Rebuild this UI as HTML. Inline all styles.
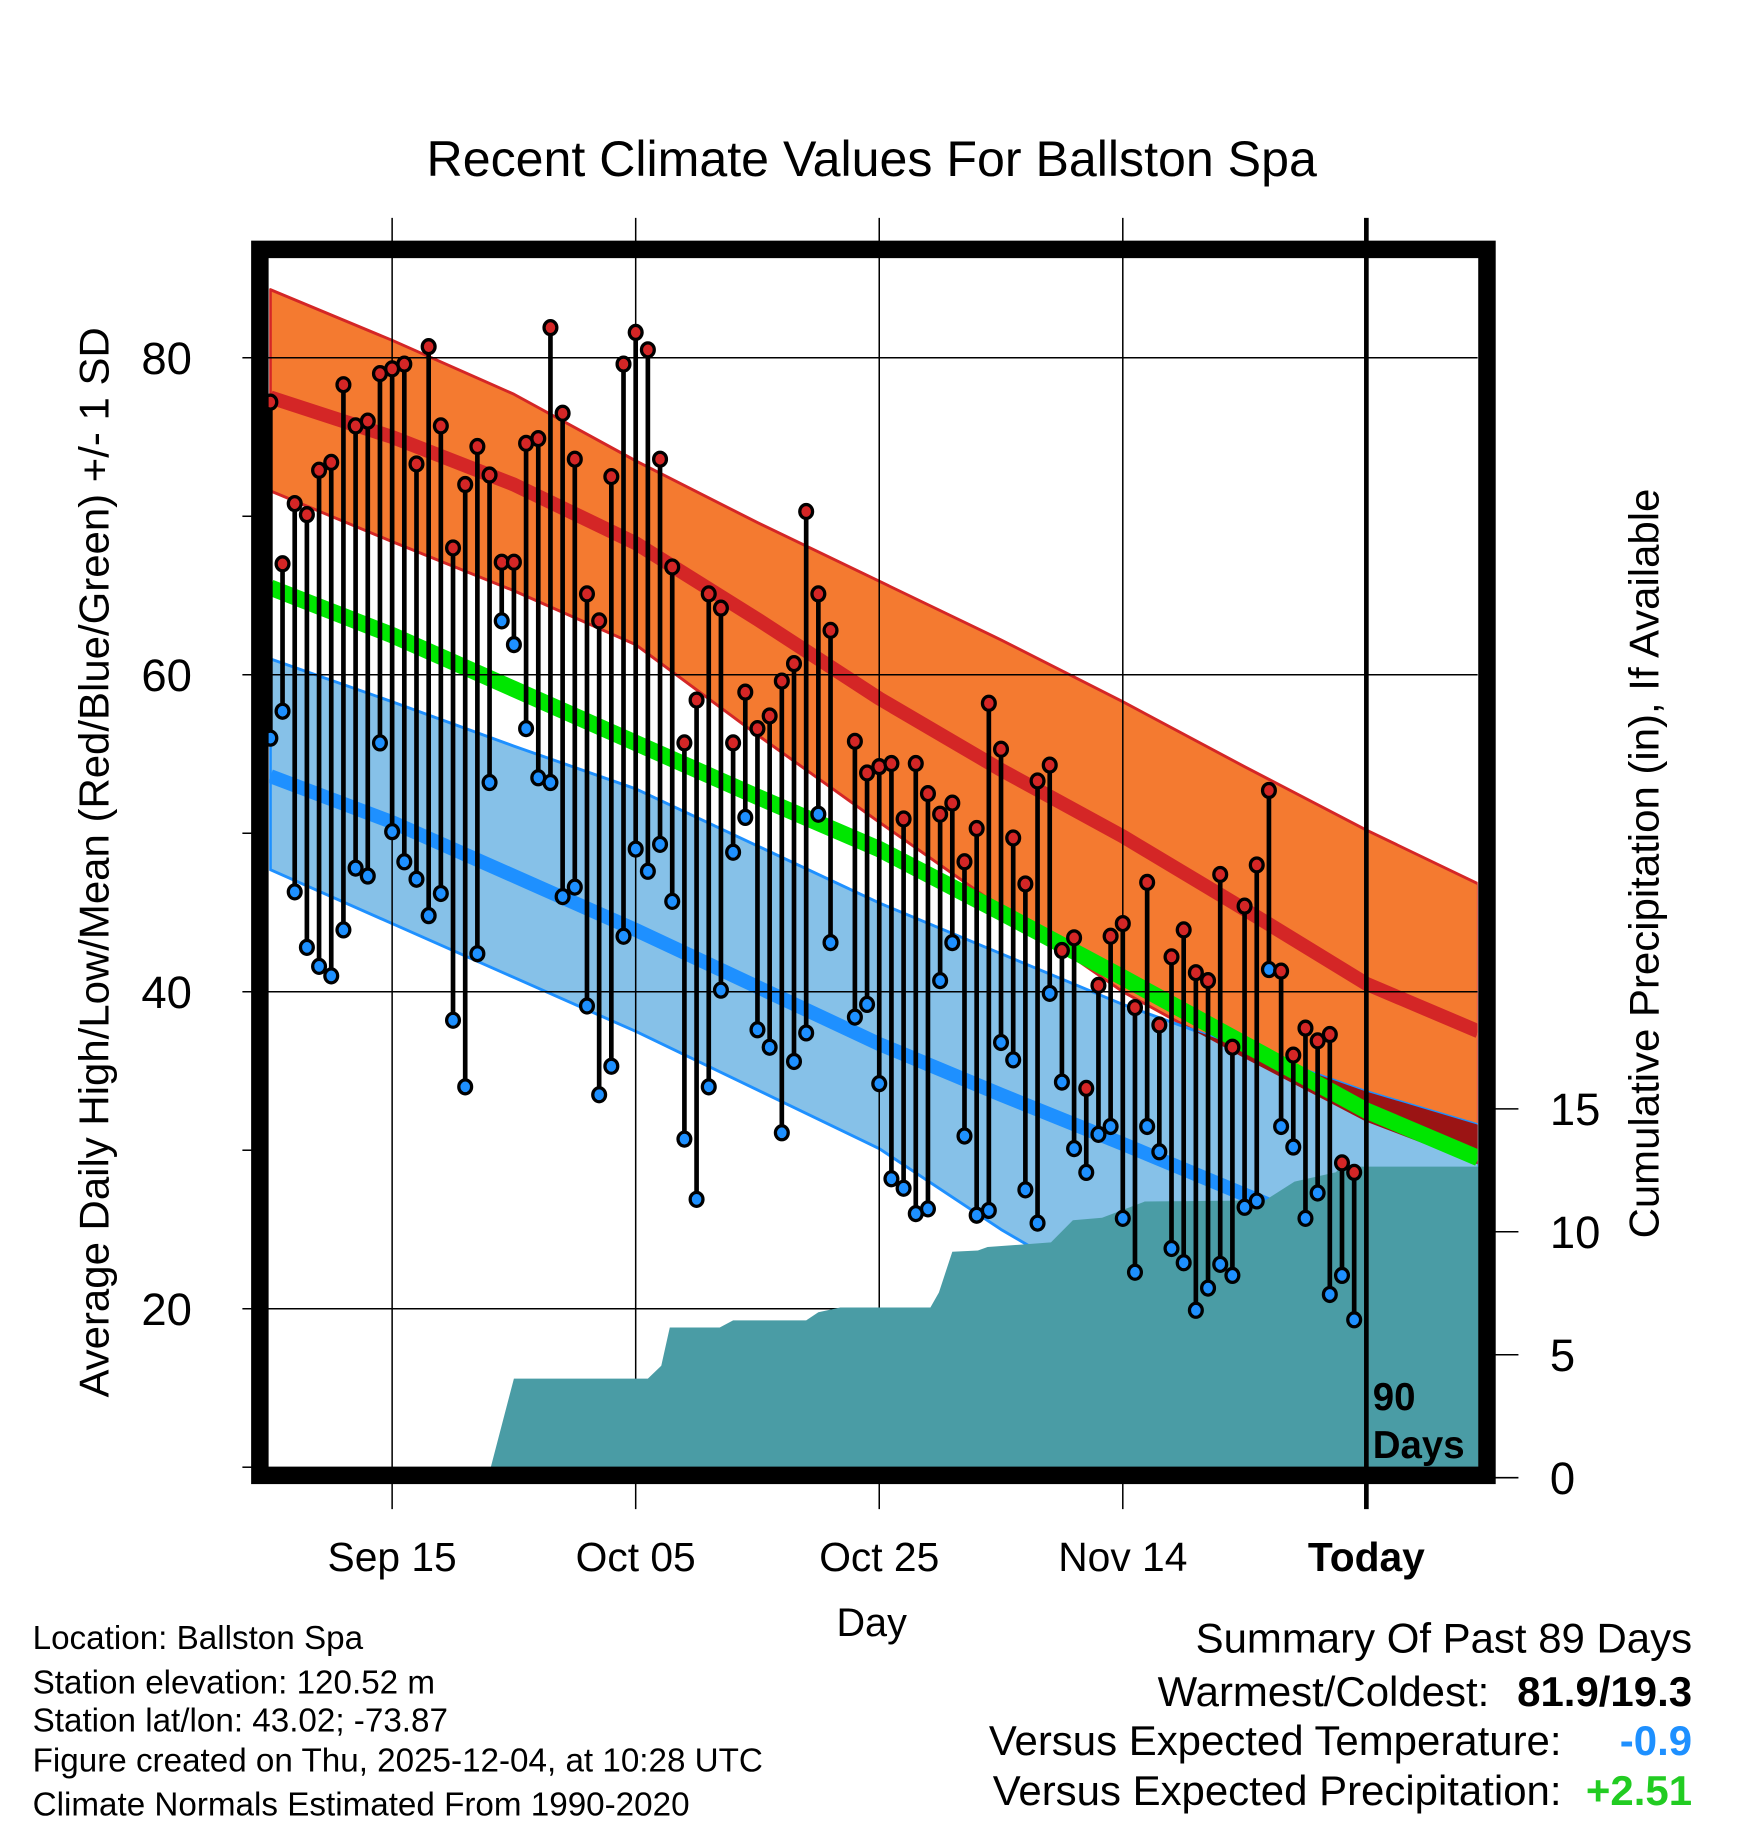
<!DOCTYPE html>
<html><head><meta charset="utf-8"><style>
html,body{margin:0;padding:0;background:#fff}
svg{display:block}
text{font-family:"Liberation Sans",Arial,sans-serif}
</style></head><body>
<svg id="chart" width="1748" height="1828" viewBox="0 0 1500 1568.6" preserveAspectRatio="none" xmlns="http://www.w3.org/2000/svg">
<defs><clipPath id="plotclip"><rect x="231" y="222" width="1037" height="1037"/></clipPath></defs>
<rect width="1500" height="1568.6" fill="#fff"/>
<g id="plot" clip-path="url(#plotclip)"></g>
<g id="over"></g>
<text x="748" y="151" font-size="43" text-anchor="middle">Recent Climate Values For Ballston Spa</text>
<text transform="translate(93,740) rotate(-90)" font-size="36" text-anchor="middle">Average Daily High/Low/Mean (Red/Blue/Green) +/- 1 SD</text>
<text transform="translate(1423,741) rotate(-90)" font-size="36" text-anchor="middle">Cumulative Precipitation (in), If Available</text>
<text x="748" y="1404" font-size="34" text-anchor="middle">Day</text>
<text x="1178" y="1210" font-size="33" font-weight="bold">90</text>
<text x="1178" y="1251" font-size="33" font-weight="bold">Days</text>
<g font-size="28.5">
<text x="28" y="1415">Location: Ballston Spa</text>
<text x="28" y="1453">Station elevation: 120.52 m</text>
<text x="28" y="1486">Station lat/lon: 43.02; -73.87</text>
<text x="28" y="1520">Figure created on Thu, 2025-12-04, at 10:28 UTC</text>
<text x="28" y="1558">Climate Normals Estimated From 1990-2020</text>
</g>
<g font-size="36">
<text x="1452" y="1418" text-anchor="end">Summary Of Past 89 Days</text>
<text x="1278" y="1464" text-anchor="end">Warmest/Coldest:</text>
<text x="1452" y="1464" text-anchor="end" font-weight="bold">81.9/19.3</text>
<text x="1340" y="1506" text-anchor="end">Versus Expected Temperature:</text>
<text x="1452" y="1506" text-anchor="end" font-weight="bold" fill="#1e90ff">-0.9</text>
<text x="1340" y="1549" text-anchor="end">Versus Expected Precipitation:</text>
<text x="1452" y="1549" text-anchor="end" font-weight="bold" fill="#22cc22">+2.51</text>
</g>
</svg>
<script>
// normals at knot days
const normDays = [0, 10, 20, 30, 40, 50, 60, 70, 80, 90, 99.2];
const highTop = [84.3, 81.1, 77.7, 73.5, 69.6, 65.9, 62.2, 58.3, 54.2, 50.2, 46.8];
const highMean = [77.5, 75.0, 72.0, 68.3, 63.5, 58.5, 54.0, 49.8, 45.2, 40.5, 37.5];
const highBot = [71.6, 68.4, 65.3, 61.9, 56.2, 50.7, 45.3, 40.0, 35.8, 31.8, 29.1];
const meanNorm = [65.5, 62.5, 59.1, 55.7, 52.3, 49.0, 45.0, 40.9, 36.7, 32.5, 29.5];
const lowTop = [61.0, 58.3, 55.5, 52.8, 49.2, 45.6, 42.4, 39.2, 36.4, 33.7, 31.6];
const lowMean = [53.6, 50.7, 47.3, 43.9, 40.3, 36.7, 33.5, 30.4, 27.2, 24.0, 21.2];
const lowBot = [47.7, 44.3, 40.9, 37.5, 33.8, 30.1, 25.0, 20.5, 16.0, 11.5, 8.0];
// daily observations (index 0 = Sep 05), null = missing
const highs = [77.2,67.0,70.8,70.1,72.9,73.4,78.3,75.7,76.0,79.0,79.3,79.6,73.3,80.7,75.7,68.0,72.0,74.4,72.6,67.1,67.1,74.6,74.9,81.9,76.5,73.6,65.1,63.4,72.5,79.6,81.6,80.5,73.6,66.8,55.7,58.4,65.1,64.2,55.7,58.9,56.6,57.4,59.6,60.7,70.3,65.1,62.8,null,55.8,53.8,54.2,54.4,50.9,54.4,52.5,51.2,51.9,48.2,50.3,58.2,55.3,49.7,46.8,53.3,54.3,42.6,43.4,33.9,40.4,43.5,44.3,39.0,46.9,37.9,42.2,43.9,41.2,40.7,47.4,36.5,45.4,48.0,52.7,41.3,36.0,37.7,36.9,37.3,29.2,28.6];
const lows = [56.0,57.7,46.3,42.8,41.6,41.0,43.9,47.8,47.3,55.7,50.1,48.2,47.1,44.8,46.2,38.2,34.0,42.4,53.2,63.4,61.9,56.6,53.5,53.2,46.0,46.6,39.1,33.5,35.3,43.5,49.0,47.6,49.3,45.7,30.7,26.9,34.0,40.1,48.8,51.0,37.6,36.5,31.1,35.6,37.4,51.2,43.1,null,38.4,39.2,34.2,28.2,27.6,26.0,26.3,40.7,43.1,30.9,25.9,26.2,36.8,35.7,27.5,25.4,39.9,34.3,30.1,28.6,31.0,31.5,25.7,22.3,31.5,29.9,23.8,22.9,19.9,21.3,22.8,22.1,26.4,26.8,41.4,31.5,30.2,25.7,27.3,20.9,22.1,19.3];
// cumulative precipitation knots
const precipDays = [18.1,20.0,31.0,32.1,32.8,36.9,38.0,44.0,45.0,46.8,54.2,54.9,56.0,58.1,58.9,64.1,65.9,68.3,71.8,81.7,84.1,87.5,87.9,99.2];
const precipVals = [0,4.03,4.03,4.55,6.11,6.11,6.4,6.4,6.73,6.92,6.92,7.53,9.19,9.24,9.38,9.57,10.47,10.57,11.23,11.28,12.04,12.42,12.65,12.65];
const tempTicks = [80,60,40,20];
const minorTicks = [70,50,30,10];
const precipTicks = [0,5,10,15];
const dateTicks = ["Sep 15","Oct 05","Oct 25","Nov 14","Today"];
const dateTickDays = [10,30,50,70,90];

const NS = "http://www.w3.org/2000/svg";
const X = d => 232 + d * 10.45;
const Y = v => 851 - (v - 40) * 13.6;
const P = v => 1268 - v * 21.1;
const plot = document.getElementById('plot');
const over = document.getElementById('over');
function mk(tag, attrs, parent) {
  const e = document.createElementNS(NS, tag);
  for (const k in attrs) e.setAttribute(k, attrs[k]);
  parent.appendChild(e);
  return e;
}
function linePts(arr) { return normDays.map((d, i) => X(d) + ',' + Y(arr[i])).join(' '); }
function bandPts(top, bot) {
  const a = normDays.map((d, i) => X(d) + ',' + Y(top[i]));
  const b = normDays.map((d, i) => X(d) + ',' + Y(bot[i])).reverse();
  return a.concat(b).join(' ');
}
const hb = mk('polygon', {points: bandPts(highTop, highBot), fill: '#f47a30', stroke: '#d42626', 'stroke-width': 2.5, 'stroke-linejoin': 'round'}, plot);


const lb = mk('polygon', {points: bandPts(lowTop, lowBot), fill: '#86c1e8', stroke: '#1e90ff', 'stroke-width': 2.5, 'stroke-linejoin': 'round'}, plot);


const cp = mk('clipPath', {id: 'lowclip'}, plot);
mk('polygon', {points: bandPts(lowTop, lowBot)}, cp);
const ov = mk('polygon', {points: bandPts(highTop, highBot), fill: '#9b1414', 'clip-path': 'url(#lowclip)'}, plot);


const hm = mk('polyline', {points: linePts(highMean), fill: 'none', stroke: '#d42626', 'stroke-width': 12, 'stroke-linejoin': 'round'}, plot);


const lm = mk('polyline', {points: linePts(lowMean), fill: 'none', stroke: '#1e90ff', 'stroke-width': 12, 'stroke-linejoin': 'round'}, plot);


const gm = mk('polyline', {points: linePts(meanNorm), fill: 'none', stroke: '#00e600', 'stroke-width': 14, 'stroke-linejoin': 'round'}, plot);


tempTicks.forEach(v => {
  const g = mk('line', {x1: 208, x2: 1268, y1: Y(v), y2: Y(v), stroke: '#000', 'stroke-width': 1.3}, over);
  
  
  const t = mk('text', {x: 143, y: Y(v) + 14, 'font-size': 39, 'text-anchor': 'middle'}, over);
  t.textContent = v;
  
  
});
minorTicks.forEach(v => {
  const g = mk('line', {x1: 208, x2: 216, y1: Y(v), y2: Y(v), stroke: '#000', 'stroke-width': 1.3}, over);
  
  
});
dateTickDays.forEach((d, i) => {
  if (i < 4) {
    const g = mk('line', {x1: X(d), x2: X(d), y1: 187, y2: 1295, stroke: '#000', 'stroke-width': 1.3}, over);
    
    
  }
  const t = mk('text', {x: X(d), y: 1348, 'font-size': 35, 'text-anchor': 'middle', 'font-weight': i === 4 ? 'bold' : 'normal'}, over);
  t.textContent = dateTicks[i];
  
  
});
const pp = [X(precipDays[0]) + ',' + 1259];
precipDays.forEach((d, i) => pp.push(X(d) + ',' + Math.min(1259, P(precipVals[i]))));
pp.push(X(precipDays[precipDays.length - 1]) + ',' + 1259);
const pr = mk('polygon', {points: pp.join(' '), fill: '#4a9ca5'}, over);


precipTicks.forEach(v => {
  const g = mk('line', {x1: 1283, x2: 1303, y1: P(v), y2: P(v), stroke: '#000', 'stroke-width': 1.3}, over);
  
  
  const t = mk('text', {x: 1330, y: P(v) + 14, 'font-size': 39}, over);
  t.textContent = v;
  
  
});
const td = mk('line', {x1: X(90), x2: X(90), y1: 187, y2: 1295, stroke: '#000', 'stroke-width': 4}, over);


highs.forEach((h, i) => {
  const l = lows[i];
  if (h === null || l === null) return;
  const s = mk('line', {x1: X(i), x2: X(i), y1: Y(h), y2: Y(l), stroke: '#000', 'stroke-width': 4}, over);
  
  
  const lc = mk('ellipse', {cx: X(i), cy: Y(l), rx: 5.5, ry: 6, fill: '#1e90ff', stroke: '#000', 'stroke-width': 2.8}, over);
  
  
  const hc = mk('ellipse', {cx: X(i), cy: Y(h), rx: 5.5, ry: 6, fill: '#d42626', stroke: '#000', 'stroke-width': 2.8}, over);
  
  
});
const fr = mk('rect', {x: 223, y: 214, width: 1053, height: 1052, fill: 'none', stroke: '#000', 'stroke-width': 15}, over);


</script>
</body></html>
